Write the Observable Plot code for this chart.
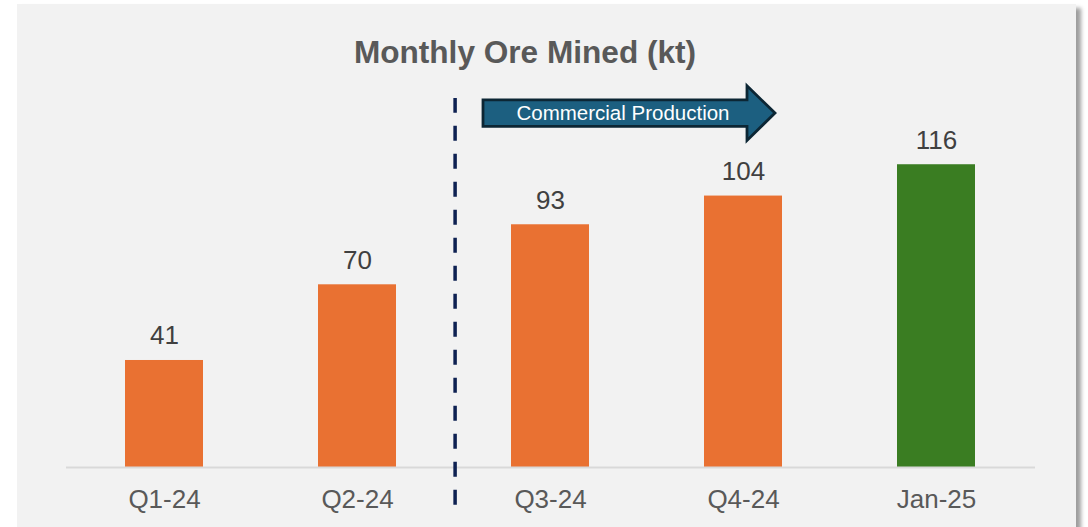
<!DOCTYPE html>
<html>
<head>
<meta charset="utf-8">
<script src="https://cdn.jsdelivr.net/npm/d3@7"></script>
<script src="https://cdn.jsdelivr.net/npm/@observablehq/plot@0.6"></script>
<style>
  html, body { margin: 0; padding: 0; background: #ffffff; width: 1088px; height: 527px; overflow: hidden; }
  #wrap { position: relative; width: 1088px; height: 527px; }
  #panel { position: absolute; left: 17px; top: 4px; width: 1059px; height: 560px; background: #f2f2f2;
           box-shadow: 5px 4px 4px rgba(0,0,0,0.38); }
  #chart { position: absolute; left: 0; top: 0; }
  #chart svg { overflow: visible; }
</style>
</head>
<body>
<div id="wrap"><div id="panel"></div><div id="chart"></div></div>
<script>
const categories = ["Q1-24", "Q2-24", "Q3-24", "Q4-24", "Jan-25"];
const values = [41, 70, 93, 104, 116];
const barColors = ["#E97132", "#E97132", "#E97132", "#E97132", "#3A7D22"];
const titleText = "Monthly Ore Mined (kt)";
const arrowLabel = "Commercial Production";
const firstCommercial = "Q3-24";

const data = categories.map((c, i) => ({cat: c, value: values[i], color: barColors[i]}));

const FONT = "'Liberation Sans', Arial, Helvetica, sans-serif";
const W = 1088, H = 527;
const mL = 66, mR = 53, mT = 75.5, mB = 60;
const step = (W - mL - mR) / categories.length;

function arrowMark(index, scales, vals, dims, context) {
  const x = scales.x, y = scales.y;
  const x0 = x(firstCommercial);          // left edge of the Q3 bar
  const left = x0 - 28, headBase = x0 + 236, tip = x0 + 264;
  const cy = y(135.6);
  const bodyH = 13.3, headH = 27.3;
  const g = d3.create("svg:g");
  const pts = [
    [left, cy - bodyH], [headBase, cy - bodyH], [headBase, cy - headH],
    [tip, cy], [headBase, cy + headH], [headBase, cy + bodyH], [left, cy + bodyH]
  ];
  g.append("path")
    .attr("d", "M" + pts.map(p => p.join(",")).join("L") + "Z")
    .attr("fill", "#1c5f80")
    .attr("stroke", "#0c2634")
    .attr("stroke-width", 2.8)
    .attr("stroke-linejoin", "miter");
  g.append("text")
    .attr("x", (left + headBase) / 2 + 8)
    .attr("y", cy)
    .attr("dy", "0.35em")
    .attr("text-anchor", "middle")
    .attr("fill", "#ffffff")
    .attr("font-family", FONT)
    .attr("font-size", 20.5)
    .text(arrowLabel);
  return g.node();
}

const chart = Plot.plot({
  width: W,
  height: H,
  marginLeft: mL,
  marginRight: mR,
  marginTop: mT,
  marginBottom: mB,
  style: {background: "transparent", fontFamily: FONT, overflow: "visible"},
  x: {domain: categories, paddingInner: 0.595, paddingOuter: 0.3, label: null},
  y: {domain: [0, 150], axis: null},
  marks: [
    Plot.barY(data, {x: "cat", y: "value", fill: "color"}),
    Plot.ruleY([0], {stroke: "#d9d9d9", strokeWidth: 2}),
    Plot.text(data, {x: "cat", y: "value", text: d => String(d.value), lineAnchor: "bottom", dy: -16,
      fill: "#404040", fontSize: 26}),
    Plot.axisX({tickSize: 0, tickPadding: 22.5, fontSize: 26, color: "#595959", label: null}),
    Plot.ruleX([firstCommercial], {y1: -14.5, y2: 141.4, dx: -step / 2 + 1.5, stroke: "#0e2152",
      strokeWidth: 3.5, strokeDasharray: "15,13", clip: false}),
    arrowMark,
    Plot.text([titleText], {frameAnchor: "top", lineAnchor: "bottom", dy: -13.5, dx: -26,
      text: d => d, fontSize: 31.6, fontWeight: "bold", fill: "#595959"})
  ]
});
document.getElementById("chart").appendChild(chart);
</script>
</body>
</html>
